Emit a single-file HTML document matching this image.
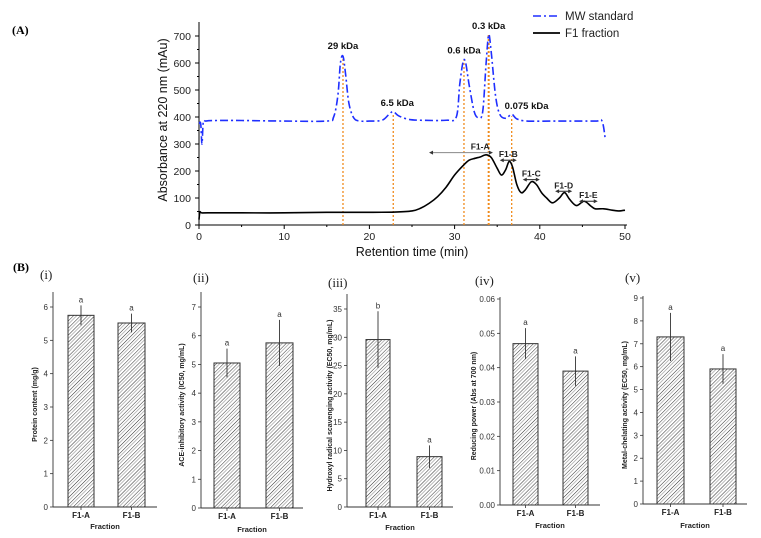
<!DOCTYPE html>
<html><head><meta charset="utf-8"><style>
html,body{margin:0;padding:0;background:#fff;}
svg{display:block;font-family:"Liberation Sans",sans-serif;}
</style></head><body>
<svg id="fig" width="761" height="538" viewBox="0 0 761 538" xmlns="http://www.w3.org/2000/svg">
<defs>
<pattern id="hatch" patternUnits="userSpaceOnUse" width="5" height="5" patternTransform="rotate(45)">
<line x1="0" y1="0" x2="0" y2="5" stroke="#111" stroke-width="0.9"/>
<line x1="2.5" y1="0" x2="2.5" y2="5" stroke="#aaa" stroke-width="0.8"/>
</pattern>
</defs>
<text x="12" y="34" font-family="Liberation Serif,serif" font-weight="bold" font-size="12">(A)</text>
<text x="13" y="271" font-family="Liberation Serif,serif" font-weight="bold" font-size="12">(B)</text>
<g id="chartA"></g>
<g id="bars"></g>
</svg>
<script>
// ---- Chart A data ----
const xTicksA = [0,10,20,30,40,50];
const yTicksA = [0,100,200,300,400,500,600,700];
const mwTime = [0,0.2,0.35,0.5,0.8,2,5,10,15,15.8,16.3,16.6,16.9,17.2,17.6,18.2,19,20,21.5,22.3,22.8,23.4,24.5,26,29,30.2,30.6,31.0,31.3,31.7,32.3,32.8,33.3,33.7,34.0,34.3,34.8,35.3,36,36.7,37.3,38.5,42,46.5,47.3,47.7];
const mwAbs = [375,375,300,380,385,387,387,385,385,400,480,600,625,560,450,395,385,385,388,410,420,405,392,388,388,400,520,605,600,520,420,398,420,600,705,640,480,410,395,410,393,385,385,385,385,315];
const f1Time = [0,0.1,0.3,1,5,10,15,20,23,25,26,27,28,29,30,31,31.7,32.4,33,33.7,34.3,35,35.5,36,36.4,36.8,37.3,37.8,38.3,39,39.6,40.2,40.8,41.5,42.3,42.9,43.5,44.3,45.2,46,46.5,47.5,48.5,49.3,50];
const f1Abs = [20,48,45,45,45,45,47,47,48,52,62,80,105,140,185,220,240,247,252,260,250,210,185,205,235,215,150,120,130,160,150,120,100,82,100,120,95,72,88,70,60,60,55,52,55];
const stdLabels = ["29 kDa","6.5 kDa","0.6 kDa","0.3 kDa","0.075 kDa"];
const stdTime = [16.9,22.8,31.1,34.0,36.7];
const stdPeak = [640,430,625,715,418];
const fracLabels = ["F1-A","F1-B","F1-C","F1-D","F1-E"];
const fracStart = [27,35.3,38,41.8,44.6];
const fracEnd = [34.5,37.3,40,43.8,46.8];
const fracLevel = [268,240,168,125,88];

// ---- Bar chart data ----
const barCategories = ["F1-A","F1-B"];
const proteinValues = [5.75,5.52]; const proteinErr = [0.3,0.28]; const proteinLetters=["a","a"];
const proteinTicks = [0,1,2,3,4,5,6];
const aceValues = [5.05,5.75]; const aceErr = [0.5,0.8]; const aceLetters=["a","a"];
const aceTicks = [0,1,2,3,4,5,6,7];
const hydroxylValues = [29.6,8.9]; const hydroxylErr = [5,2]; const hydroxylLetters=["b","a"];
const hydroxylTicks = [0,5,10,15,20,25,30,35];
const reducingValues = [0.047,0.039]; const reducingErr = [0.0045,0.0043]; const reducingLetters=["a","a"];
const reducingTicks = [0,0.01,0.02,0.03,0.04,0.05,0.06];
const chelatingValues = [7.3,5.9]; const chelatingErr = [1.05,0.65]; const chelatingLetters=["a","a"];
const chelatingTicks = [0,1,2,3,4,5,6,7,8,9];

const NS="http://www.w3.org/2000/svg";
function mk(parent,tag,attrs,text){const e=document.createElementNS(NS,tag);for(const k in attrs)e.setAttribute(k,attrs[k]);if(text!==undefined)e.textContent=text;parent.appendChild(e);return e;}

// ---- Chart A ----
const gA=document.getElementById('chartA');
const xA=t=>199+t*8.52;
const yA=v=>225-v*0.27;
function smoothPath(xs,ys){
  const p=xs.map((x,i)=>[xA(x),yA(ys[i])]);
  let d=`M${p[0][0]},${p[0][1]}`;
  for(let i=0;i<p.length-1;i++){
    const p0=p[Math.max(0,i-1)],p1=p[i],p2=p[i+1],p3=p[Math.min(p.length-1,i+2)];
    const c1=[p1[0]+(p2[0]-p0[0])/6,p1[1]+(p2[1]-p0[1])/6];
    const c2=[p2[0]-(p3[0]-p1[0])/6,p2[1]-(p3[1]-p1[1])/6];
    d+=` C${c1[0]},${c1[1]} ${c2[0]},${c2[1]} ${p2[0]},${p2[1]}`;
  }
  return d;
}
let e=mk(gA,'line',{x1:199,y1:22,x2:199,y2:225,stroke:'#000','stroke-width':1});


e=mk(gA,'line',{x1:199,y1:225,x2:627,y2:225,stroke:'#000','stroke-width':1});


yTicksA.forEach(v=>{
  mk(gA,'line',{x1:195,y1:yA(v),x2:199,y2:yA(v),stroke:'#000'});
  if(v<700) mk(gA,'line',{x1:197,y1:yA(v+50),x2:199,y2:yA(v+50),stroke:'#000'});
  e=mk(gA,'text',{x:191,y:yA(v)+4,'text-anchor':'end','font-size':10.5,fill:'#222'},v);
  
  
});
xTicksA.forEach(t=>{
  mk(gA,'line',{x1:xA(t),y1:225,x2:xA(t),y2:229,stroke:'#000'});
  if(t<50) mk(gA,'line',{x1:xA(t+5),y1:225,x2:xA(t+5),y2:227,stroke:'#000'});
  e=mk(gA,'text',{x:xA(t),y:240,'text-anchor':'middle','font-size':10.5,fill:'#222'},t);
  
  
});
e=mk(gA,'text',{x:412,y:256,'text-anchor':'middle','font-size':12.5,fill:'#111'},'Retention time (min)');


e=mk(gA,'text',{x:0,y:0,'text-anchor':'middle','font-size':12.5,fill:'#111',transform:'translate(167,120) rotate(-90)'},'Absorbance at 220 nm (mAu)');


stdTime.forEach((t,i)=>{
  const top=i===3?705:(stdPeak[i]-15);
  e=mk(gA,'line',{x1:xA(t),y1:225,x2:xA(t),y2:yA(top),stroke:'#f08a1c','stroke-width':i===3?2:1.3,'stroke-dasharray':'2,2'});
  
  
});
e=mk(gA,'path',{d:smoothPath(mwTime,mwAbs),fill:'none',stroke:'#1f2fff','stroke-width':1.6,'stroke-dasharray':'8,3,2,3'});


e=mk(gA,'path',{d:smoothPath(f1Time,f1Abs),fill:'none',stroke:'#000','stroke-width':1.6});


stdLabels.forEach((s,i)=>{
  e=mk(gA,'text',{x:xA(stdTime[i])+(i===1?4:0),y:yA(stdPeak[i])-3,'text-anchor':i===4?'start':'middle','font-size':9.5,'font-weight':'bold',fill:'#111'},s);
  if(i===4){e.setAttribute('x',xA(stdTime[i])-7);}
  
  
});
fracLabels.forEach((s,i)=>{
  const x1=xA(fracStart[i]),x2=xA(fracEnd[i]),y=yA(fracLevel[i]);
  e=mk(gA,'line',{x1:x1+3,y1:y,x2:x2-3,y2:y,stroke:i===0?'#888':'#222','stroke-width':1});
  
  
  mk(gA,'path',{d:`M${x1},${y} l4,-2 l0,4 z`,fill:'#333'});
  mk(gA,'path',{d:`M${x2},${y} l-4,-2 l0,4 z`,fill:'#333'});
  e=mk(gA,'text',{x:i===0?xA(33):(x1+x2)/2,y:y-3,'text-anchor':'middle','font-size':8.5,'font-weight':'bold',fill:'#222'},s);
  
  
});
e=mk(gA,'line',{x1:533,y1:16,x2:560,y2:16,stroke:'#1f2fff','stroke-width':1.6,'stroke-dasharray':'8,3,2,3'});


e=mk(gA,'text',{x:565,y:20,'font-size':11.5,fill:'#222'},'MW standard');


e=mk(gA,'line',{x1:533,y1:33,x2:560,y2:33,stroke:'#000','stroke-width':1.8});


e=mk(gA,'text',{x:565,y:37,'font-size':11.5,fill:'#222'},'F1 fraction');



// ---- Bar charts ----
const gB=document.getElementById('bars');
const panels=[
 {id:'protein',label:'(i)',lx:40,ly:279,ax:53,y0:507,yTop:292,xEnd:157,vmax:6,vmaxY:307,b:[[68,94],[118,145]],title:'Protein content (mg/g)',tx:37,fy:529,vals:proteinValues,err:proteinErr,let:proteinLetters,ticks:proteinTicks,dec:0},
 {id:'ace',label:'(ii)',lx:193,ly:282,ax:201,y0:508,yTop:292,xEnd:303,vmax:7,vmaxY:307,b:[[214,240],[266,293]],title:'ACE-inhibitory activity (IC50, mg/mL)',tx:184,fy:532,vals:aceValues,err:aceErr,let:aceLetters,ticks:aceTicks,dec:0},
 {id:'hydroxyl',label:'(iii)',lx:328,ly:287,ax:347,y0:507,yTop:294,xEnd:453,vmax:35,vmaxY:309,b:[[366,390],[417,442]],title:'Hydroxyl radical scavenging activity (EC50, mg/mL)',tx:332,fy:530,vals:hydroxylValues,err:hydroxylErr,let:hydroxylLetters,ticks:hydroxylTicks,dec:0},
 {id:'reducing',label:'(iv)',lx:475,ly:285,ax:500,y0:505,yTop:297,xEnd:600,vmax:0.06,vmaxY:299,b:[[513,538],[563,588]],title:'Reducing power (Abs at 700 nm)',tx:476,fy:528,vals:reducingValues,err:reducingErr,let:reducingLetters,ticks:reducingTicks,dec:2},
 {id:'chelating',label:'(v)',lx:625,ly:282,ax:643,y0:504,yTop:296,xEnd:747,vmax:9,vmaxY:298,b:[[657,684],[710,736]],title:'Metal-chelating activity (EC50, mg/mL)',tx:627,fy:528,vals:chelatingValues,err:chelatingErr,let:chelatingLetters,ticks:chelatingTicks,dec:0}
];
panels.forEach(P=>{
  const g=mk(gB,'g',{});
  
  
  const y=v=>P.y0-(v/P.vmax)*(P.y0-P.vmaxY);
  e=mk(g,'text',{x:P.lx,y:P.ly,'font-family':'Liberation Serif,serif','font-size':13,fill:'#222'},P.label);
  
  
  mk(g,'line',{x1:P.ax,y1:P.yTop,x2:P.ax,y2:P.y0,stroke:'#333','stroke-width':0.9});
  mk(g,'line',{x1:P.ax,y1:P.y0,x2:P.xEnd,y2:P.y0,stroke:'#333','stroke-width':0.9});
  P.ticks.forEach(t=>{
    mk(g,'line',{x1:P.ax-3,y1:y(t),x2:P.ax,y2:y(t),stroke:'#333','stroke-width':0.8});
    e=mk(g,'text',{x:P.ax-5,y:y(t)+3,'text-anchor':'end','font-size':8,fill:'#333'},t.toFixed(P.dec));
    
    
  });
  barCategories.forEach((c,i)=>{
    const [x1,x2]=P.b[i];const v=P.vals[i];const cx=(x1+x2)/2;
    e=mk(g,'rect',{x:x1,y:y(v),width:x2-x1,height:P.y0-y(v),fill:'url(#hatch)',stroke:'#333','stroke-width':1});
    
    
    e=mk(g,'line',{x1:cx,y1:y(v-P.err[i]),x2:cx,y2:y(v+P.err[i]),stroke:'#333','stroke-width':0.9});
    
    
    e=mk(g,'text',{x:cx,y:y(v+P.err[i])-3,'text-anchor':'middle','font-size':8,fill:'#333'},P.let[i]);
    
    
    mk(g,'line',{x1:cx,y1:P.y0,x2:cx,y2:P.y0+3,stroke:'#333','stroke-width':0.8});
    e=mk(g,'text',{x:cx,y:P.y0+11,'text-anchor':'middle','font-size':8,'font-weight':'bold',fill:'#222'},c);
    
    
  });
  e=mk(g,'text',{x:(P.ax+P.xEnd)/2,y:P.fy,'text-anchor':'middle','font-size':7.5,'font-weight':'bold',fill:'#222'},'Fraction');
  
  
  e=mk(g,'text',{x:0,y:0,'text-anchor':'middle','font-size':7,'font-weight':'bold',fill:'#222',transform:`translate(${P.tx},${(P.yTop+P.y0)/2+5}) rotate(-90)`},P.title);
  
  
});
</script>
</body></html>
